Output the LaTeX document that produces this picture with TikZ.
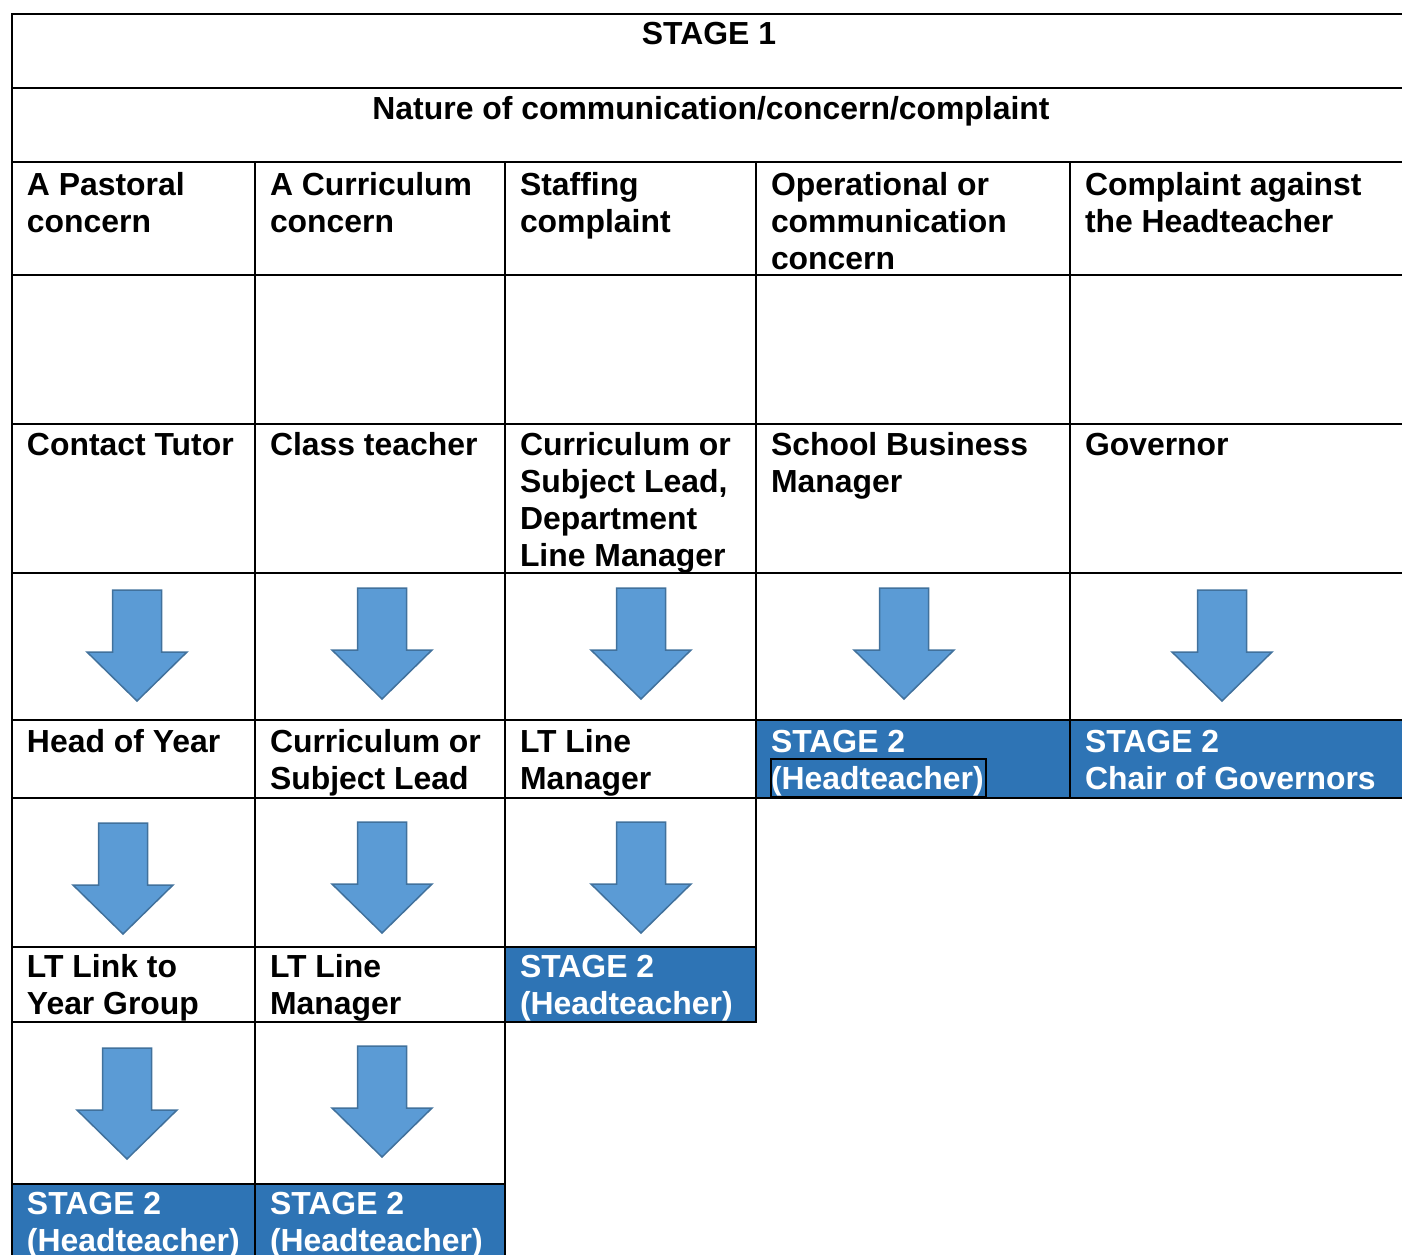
\documentclass[tikz,border=0pt]{standalone}
\usepackage{fontspec}
\setmainfont{Liberation Sans}
\definecolor{cellblue}{HTML}{2E74B5}
\definecolor{arrowblue}{HTML}{5B9BD5}
\definecolor{arrowedge}{HTML}{41719C}
\newcommand{\cellfont}{\fontsize{31.9}{37}\selectfont\bfseries}
\begin{document}
\begin{tikzpicture}[x=1pt,y=-1pt,
  grid/.style={line width=1.8pt, draw=black},
  txt/.style={anchor=north west, inner sep=0pt, outer sep=0pt, align=left, font=\cellfont, text=black},
  wtxt/.style={txt, text=white},
  htxt/.style={anchor=base, inner sep=0pt, outer sep=0pt, font=\cellfont},
  downarrow/.pic={\draw[fill=arrowblue, draw=arrowedge, line width=1.5pt, line join=miter]
     (-24.5,0) -- (24.5,0) -- (24.5,62) -- (50,62) -- (0,111) -- (-50,62) -- (-24.5,62) -- cycle;}
  ]
\useasboundingbox (0,0) rectangle (1402,1254);
\clip (0,0) rectangle (1402,1254);
% blue cells
\fill[cellblue] (756,720) rectangle (1070,798);
\fill[cellblue] (1070,720) rectangle (1402,798);
\fill[cellblue] (505,947) rectangle (756,1022);
\fill[cellblue] (12,1184) rectangle (505,1260);
% grid
\draw[grid] (12,14) -- (1402,14);
\draw[grid] (12,88) -- (1402,88);
\draw[grid] (12,162) -- (1402,162);
\draw[grid] (12,275) -- (1402,275);
\draw[grid] (12,424) -- (1402,424);
\draw[grid] (12,573) -- (1402,573);
\draw[grid] (12,720) -- (1402,720);
\draw[grid] (12,798) -- (1402,798);
\draw[grid] (12,947) -- (756,947);
\draw[grid] (12,1022) -- (756,1022);
\draw[grid] (12,1184) -- (505,1184);
\draw[grid] (12,13.1) -- (12,1260);
\draw[grid] (255,162) -- (255,1260);
\draw[grid] (505,162) -- (505,1260);
\draw[grid] (756,162) -- (756,1022.9);
\draw[grid] (1070,162) -- (1070,798);
% small box
\draw[line width=1.5pt] (771,759) rectangle (986,797);
% header text
\node[htxt] (stage1) at (709,44) {STAGE 1};
\node[htxt] (nature) at (711,119) {Nature of communication/concern/complaint};
% row 1
\node[txt] (r1c1) at (27,169.1) {\strut A Pastoral\\concern};
\node[txt] (r1c2) at (270,169.1) {\strut A Curriculum\\concern};
\node[txt] (r1c3) at (520,169.1) {\strut Staffing\\complaint};
\node[txt] (r1c4) at (771,169.1) {\strut Operational or\\communication\\concern};
\node[txt] (r1c5) at (1085,169.1) {\strut Complaint against\\the Headteacher};
% row 2
\node[txt] (r2c1) at (27,429.1) {\strut Contact Tutor};
\node[txt] (r2c2) at (270,429.1) {\strut Class teacher};
\node[txt] (r2c3) at (520,429.1) {\strut Curriculum or\\Subject Lead,\\Department\\Line Manager};
\node[txt] (r2c4) at (771,429.1) {\strut School Business\\Manager};
\node[txt] (r2c5) at (1085,429.1) {\strut Governor};
% row 3
\node[txt] (r3c1) at (27,726.1) {\strut Head of Year};
\node[txt] (r3c2) at (270,726.1) {\strut Curriculum or\\Subject Lead};
\node[txt] (r3c3) at (520,726.1) {\strut LT Line\\Manager};
\node[wtxt] (r3c4) at (771,726.1) {\strut STAGE 2\\(Headteacher)};
\node[wtxt] (r3c5) at (1085,726.1) {\strut STAGE 2\\Chair of Governors};
% row 4
\node[txt] (r4c1) at (27,951.1) {\strut LT Link to\\Year Group};
\node[txt] (r4c2) at (270,951.1) {\strut LT Line\\Manager};
\node[wtxt] (r4c3) at (520,951.1) {\strut STAGE 2\\(Headteacher)};
% row 5
\node[wtxt] (r5c1) at (27,1188.1) {\strut STAGE 2\\(Headteacher)};
\node[wtxt] (r5c2) at (270,1188.1) {\strut STAGE 2\\(Headteacher)};
% arrows
\pic at (137,590) {downarrow};
\pic at (382,588) {downarrow};
\pic at (641,588) {downarrow};
\pic at (904,588) {downarrow};
\pic at (1222,590) {downarrow};
\pic at (123,823) {downarrow};
\pic at (382,822) {downarrow};
\pic at (641,822) {downarrow};
\pic at (127,1048) {downarrow};
\pic at (382,1046) {downarrow};
\end{tikzpicture}
\end{document}
